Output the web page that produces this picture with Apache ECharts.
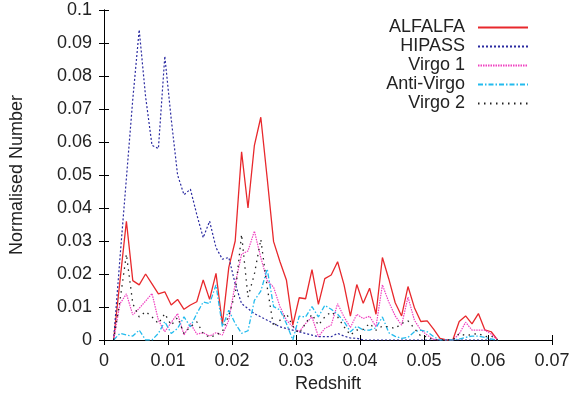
<!DOCTYPE html>
<html>
<head>
<meta charset="utf-8">
<script src="https://cdn.jsdelivr.net/npm/echarts@6/dist/echarts.min.js"></script>
<style>
  html, body { margin: 0; padding: 0; background: #fff; }
  #chart { width: 573px; height: 403px; }
</style>
</head>
<body>
<div id="chart"></div>
<script>
// bin centres (redshift)
const redshift = [0.0015, 0.0025, 0.0035, 0.0045, 0.0055, 0.0065, 0.0075, 0.0085, 0.0095, 0.0105,
  0.0115, 0.0125, 0.0135, 0.0145, 0.0155, 0.0165, 0.0175, 0.0185, 0.0195, 0.0205,
  0.0215, 0.0225, 0.0235, 0.0245, 0.0255, 0.0265, 0.0275, 0.0285, 0.0295, 0.0305,
  0.0315, 0.0325, 0.0335, 0.0345, 0.0355, 0.0365, 0.0375, 0.0385, 0.0395, 0.0405,
  0.0415, 0.0425, 0.0435, 0.0445, 0.0455, 0.0465, 0.0475, 0.0485, 0.0495, 0.0505,
  0.0515, 0.0525, 0.0535, 0.0545, 0.0555, 0.0565, 0.0575, 0.0585, 0.0595, 0.0605, 0.0615]

const alfalfa = [0, 0.018, 0.036, 0.018, 0.0167, 0.020, 0.017, 0.014, 0.0146, 0.0106,
  0.0123, 0.0093, 0.0106, 0.0116, 0.0182, 0.0123, 0.0202, 0.0048, 0.022, 0.030,
  0.057, 0.040, 0.059, 0.0675, 0.049, 0.0298, 0.0237, 0.0182, 0.0045, 0.0128,
  0.0125, 0.0213, 0.0108, 0.0186, 0.0197, 0.0237, 0.0168, 0.0072, 0.0168, 0.0111,
  0.0157, 0.0078, 0.025, 0.0185, 0.0113, 0.0073, 0.0162, 0.0098, 0.0056, 0.0058,
  0.0033, 0.0005, 0, 0, 0.0056, 0.0073, 0.0049, 0.008, 0.0031, 0.0025, 0]

const hipass = [0, 0.025, 0.049, 0.073, 0.094, 0.0737, 0.059, 0.058, 0.086, 0.067,
  0.050, 0.044, 0.0457, 0.038, 0.031, 0.036, 0.028, 0.0245, 0.025, 0.017,
  0.011, 0.0095, 0.008, 0.007, 0.006, 0.005, 0.004, 0.0035, 0.003, 0.0025,
  0.002, 0.0015, 0.001, 0.001, 0.001, 0.002, 0.0012, 0.0006, 0.0005, 0,
  0, 0, 0, 0, 0, 0, 0, 0, 0, 0,
  0, 0, 0, 0, 0, 0, 0, 0, 0, 0, 0]

const virgo1 = [0, 0.011, 0.014, 0.0076, 0.0096, 0.0118, 0.0141, 0.006, 0.0025, 0.0053,
  0.008, 0.0015, 0.005, 0.0018, 0.0022, 0.0012, 0.0022, 0.0015, 0.006, 0.017,
  0.026, 0.027, 0.033, 0.025, 0.018, 0.016, 0.0101, 0.006, 0.004, 0.0025,
  0.005, 0.007, 0.001, 0.0035, 0.0045, 0.011, 0.007, 0.0038, 0.0078, 0.0065,
  0.0072, 0.004, 0.0167, 0.0115, 0.0073, 0.0045, 0.013, 0.006, 0.003, 0.0015,
  0.0002, 0, 0, 0, 0.0018, 0.0054, 0.003, 0.003, 0.003, 0.0018, 0]

const antiVirgo = [0, 0.002, 0.0015, 0.0012, 0.003, 0, 0, 0.002, 0.0056, 0.002,
  0.0035, 0.007, 0.004, 0.008, 0.0115, 0.011, 0.0167, 0.004, 0.009, 0.005,
  0.002, 0.0028, 0.012, 0.0148, 0.0215, 0.0101, 0.0091, 0.005, 0, 0.0072,
  0.007, 0.0101, 0.007, 0.0105, 0.0093, 0.0078, 0.0056, 0.0025, 0.0042, 0.003,
  0.003, 0.0037, 0.007, 0.0022, 0.0011, 0.0005, 0.0008, 0.0025, 0.003, 0.0025,
  0.001, 0, 0, 0, 0.0003, 0.0008, 0.0012, 0.0012, 0.0008, 0.0003, 0]

const virgo2 = [0, 0.012, 0.026, 0.011, 0.007, 0.0086, 0.007, 0.005, 0.008, 0.0045,
  0.0068, 0.002, 0.004, 0.0055, 0.002, 0.0008, 0.0015, 0.0025, 0.0075, 0.014,
  0.032, 0.013, 0.020, 0.0305, 0.016, 0.004, 0.006, 0.008, 0.0042, 0.002,
  0.005, 0.0078, 0.0045, 0.007, 0.0085, 0.007, 0.004, 0.0015, 0.003, 0.0032,
  0.005, 0.003, 0.0042, 0.004, 0.0035, 0.005, 0.0058, 0.0035, 0.0012, 0.001,
  0, 0, 0, 0, 0.002, 0.0013, 0.0017, 0.002, 0.001, 0.0012, 0]

const font = 'Liberation Sans'
const txt = '#222'
const fmt = v => (v === 0 ? '0' : String(+v.toFixed(2)))

function pairs (ys) {
  return redshift.map((x, k) => [x, ys[k]])
}

function line (name, ys, color, type, width) {
  return {
    name: name,
    type: 'line',
    data: pairs(ys),
    symbol: 'none',
    animation: false,
    lineStyle: { color: color, width: width, type: type },
    itemStyle: { color: color }
  }
}

const tick = { inside: true, length: 5, lineStyle: { color: '#000', width: 1 } }
const axLine = { show: true, lineStyle: { color: '#000', width: 1 } }

const myChart = echarts.init(document.getElementById('chart'))
myChart.setOption({
  backgroundColor: '#fff',
  grid: { left: 104, right: 21, top: 10, bottom: 63 },
  legend: {
    orient: 'vertical',
    right: 39,
    top: 13,
    align: 'right',
    itemWidth: 50,
    itemHeight: 12,
    itemGap: 0,
    // hide the symbol dot, keep the line sample
    itemStyle: { opacity: 0 },
    textStyle: { fontFamily: font, fontSize: 18, color: txt, lineHeight: 19, padding: [0, 8, 0, 0] },
    data: ['ALFALFA', 'HIPASS', 'Virgo 1', 'Anti-Virgo', 'Virgo 2']
  },
  xAxis: [
    {
      type: 'value', min: 0, max: 0.07, interval: 0.01,
      name: 'Redshift', nameLocation: 'middle', nameGap: 33,
      nameTextStyle: { fontFamily: font, fontSize: 18, color: txt },
      axisLine: axLine, axisTick: tick, splitLine: { show: false },
      axisLabel: { fontFamily: font, fontSize: 18, color: txt, margin: 12, formatter: fmt }
    },
    {
      type: 'value', position: 'top', min: 0, max: 0.07, interval: 0.01,
      axisLine: axLine, axisTick: tick, splitLine: { show: false }, axisLabel: { show: false }
    }
  ],
  yAxis: [
    {
      type: 'value', min: 0, max: 0.1, interval: 0.01,
      name: 'Normalised Number', nameLocation: 'middle', nameGap: 78,
      nameTextStyle: { fontFamily: font, fontSize: 18, color: txt },
      axisLine: axLine, axisTick: tick, splitLine: { show: false },
      axisLabel: { fontFamily: font, fontSize: 18, color: txt, margin: 12, formatter: fmt }
    },
    {
      type: 'value', position: 'right', min: 0, max: 0.1, interval: 0.01,
      axisLine: axLine, axisTick: tick, splitLine: { show: false }, axisLabel: { show: false }
    }
  ],
  series: [
    line('ALFALFA', alfalfa, '#e8282c', 'solid', 1.3),
    line('HIPASS', hipass, '#2a2aa0', [2, 2], 1.2),
    line('Virgo 1', virgo1, '#f040c0', [1.5, 1], 1.2),
    line('Anti-Virgo', antiVirgo, '#22bbee', [5, 2, 1.5, 2], 1.3),
    line('Virgo 2', virgo2, '#222222', [1.5, 4.5], 1.3)
  ]
})
</script>
</body>
</html>
